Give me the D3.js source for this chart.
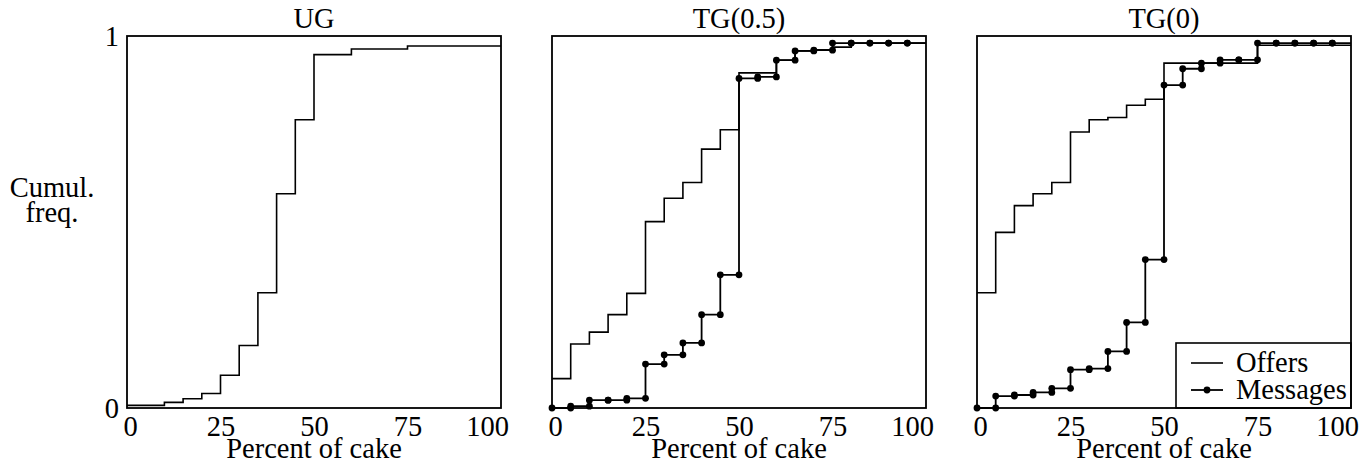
<!DOCTYPE html>
<html>
<head>
<meta charset="utf-8">
<script src="https://cdn.jsdelivr.net/npm/d3@7"></script>
<style>
  body { margin: 0; background: #fff; }
  svg text { font-family: "Liberation Serif", "DejaVu Serif", serif; fill: #000; }
</style>
</head>
<body>
<div id="chart"></div>
<script>
// percent of cake, one value every 5 points
const percents = d3.range(0, 101, 5);
const xTicks = [0, 25, 50, 75, 100];
const yTicks = [0, 1];
const panelTitles = ["UG", "TG(0.5)", "TG(0)"];

const ugOffers = [0.007, 0.007, 0.015, 0.025, 0.039, 0.088, 0.168, 0.310, 0.576, 0.775, 0.950,
                  0.950, 0.965, 0.965, 0.965, 0.973, 0.973, 0.973, 0.973, 0.973, 0.973];
const tg05Offers = [0.079, 0.172, 0.204, 0.251, 0.308, 0.501, 0.564, 0.606, 0.696, 0.748, 0.901,
                    0.901, 0.935, 0.960, 0.963, 0.970, 0.981, 0.981, 0.981, 0.981, 0.981];
const tg05Messages = [0, 0.005, 0.021, 0.021, 0.026, 0.118, 0.143, 0.175, 0.251, 0.358, 0.886,
                      0.890, 0.935, 0.960, 0.962, 0.981, 0.981, 0.981, 0.981, 0.981, 0.981];
const tg0Offers = [0.310, 0.472, 0.544, 0.576, 0.606, 0.742, 0.775, 0.781, 0.814, 0.830, 0.927,
                   0.927, 0.927, 0.927, 0.927, 0.975, 0.975, 0.975, 0.975, 0.975, 0.975];
const tg0Messages = [0, 0.032, 0.035, 0.042, 0.053, 0.103, 0.106, 0.152, 0.230, 0.399, 0.868,
                     0.912, 0.927, 0.936, 0.936, 0.981, 0.981, 0.981, 0.981, 0.981, 0.981];

const panels = [
  { title: panelTitles[0], offers: ugOffers, messages: null },
  { title: panelTitles[1], offers: tg05Offers, messages: tg05Messages },
  { title: panelTitles[2], offers: tg0Offers, messages: tg0Messages, legend: true }
];

const W = 1369, H = 468;
const panelLefts = [127, 552, 977];
const pw = 374, plotTop = 36, plotBottom = 408;
const fs = 28.5;

const svg = d3.select("#chart").append("svg")
  .attr("width", W)
  .attr("height", H);

const y = d3.scaleLinear().domain([0, 1]).range([plotBottom, plotTop]);

const line = (xs) => d3.line()
  .x(d => xs(d[0]))
  .y(d => y(d[1]))
  .curve(d3.curveStepAfter);

// y label
const yl = svg.append("text")
  .attr("text-anchor", "middle")
  .attr("font-size", fs);
yl.append("tspan").attr("x", 52).attr("y", 197).text("Cumul.");
yl.append("tspan").attr("x", 52).attr("y", 222).text("freq.");

panels.forEach((p, k) => {
  const left = panelLefts[k];
  const x = d3.scaleLinear().domain([0, 100]).range([left, left + pw]);
  const g = svg.append("g");

  g.append("text")
    .attr("x", left + pw / 2)
    .attr("y", plotTop - 8)
    .attr("text-anchor", "middle")
    .attr("font-size", fs)
    .text(p.title);

  const xAxis = d3.axisBottom(x).tickValues(xTicks).tickSize(0).tickPadding(0);
  const ax = g.append("g")
    .attr("transform", `translate(0, ${plotBottom})`)
    .call(xAxis);
  ax.select(".domain").remove();
  ax.selectAll("text")
    .attr("font-size", fs)
    .attr("font-family", null)
    .attr("y", 28)
    .attr("dy", null)
    .attr("dx", d => d === 0 ? 3 : d === 100 ? -14 : 0);

  g.append("text")
    .attr("x", left + pw / 2)
    .attr("y", 458)
    .attr("text-anchor", "middle")
    .attr("font-size", fs)
    .text("Percent of cake");

  if (k === 0) {
    const yAxis = d3.axisLeft(y).tickValues(yTicks).tickSize(0).tickPadding(8).tickFormat(d3.format("d"));
    const ay = g.append("g")
      .attr("transform", `translate(${left}, 0)`)
      .call(yAxis);
    ay.select(".domain").remove();
    ay.selectAll("text").attr("font-size", fs).attr("font-family", null).attr("dy", "0.34em");
  }

  const offerPts = percents.map((v, i) => [v, p.offers[i]]);
  g.append("path")
    .attr("d", line(x)(offerPts))
    .attr("fill", "none")
    .attr("stroke", "#000")
    .attr("stroke-width", 1.6);

  if (p.messages) {
    const msgPts = percents.map((v, i) => [v, p.messages[i]]);
    g.append("path")
      .attr("d", line(x)(msgPts))
      .attr("fill", "none")
      .attr("stroke", "#000")
      .attr("stroke-width", 1.8);

    // dots at each step corner
    const dots = [];
    percents.forEach((v, i) => {
      if (v >= 100) return;
      if (i > 0) dots.push([v, p.messages[i - 1]]);
      dots.push([v, p.messages[i]]);
    });
    g.selectAll("circle.m")
      .data(dots)
      .join("circle")
      .attr("class", "m")
      .attr("cx", d => x(d[0]))
      .attr("cy", d => y(d[1]))
      .attr("r", 3.4)
      .attr("fill", "#000");
  }

  if (p.legend) {
    const lx = left + 199, ly = 343;
    g.append("rect")
      .attr("x", lx).attr("y", ly)
      .attr("width", left + pw - lx).attr("height", plotBottom - ly)
      .attr("fill", "#fff")
      .attr("stroke", "#000")
      .attr("stroke-width", 1.6);
    g.append("line")
      .attr("x1", lx + 15).attr("x2", lx + 47)
      .attr("y1", ly + 20).attr("y2", ly + 20)
      .attr("stroke", "#000").attr("stroke-width", 1.6);
    g.append("line")
      .attr("x1", lx + 15).attr("x2", lx + 47)
      .attr("y1", ly + 47).attr("y2", ly + 47)
      .attr("stroke", "#000").attr("stroke-width", 1.8);
    g.append("circle")
      .attr("cx", lx + 31).attr("cy", ly + 47).attr("r", 3.4).attr("fill", "#000");
    g.append("text").attr("x", lx + 60).attr("y", ly + 29).attr("font-size", fs).text("Offers");
    g.append("text").attr("x", lx + 60).attr("y", ly + 56).attr("font-size", fs).text("Messages");
  }

  g.append("rect")
    .attr("x", left).attr("y", plotTop)
    .attr("width", pw).attr("height", plotBottom - plotTop)
    .attr("fill", "none")
    .attr("stroke", "#000")
    .attr("stroke-width", 1.8);
});
</script>
</body>
</html>
